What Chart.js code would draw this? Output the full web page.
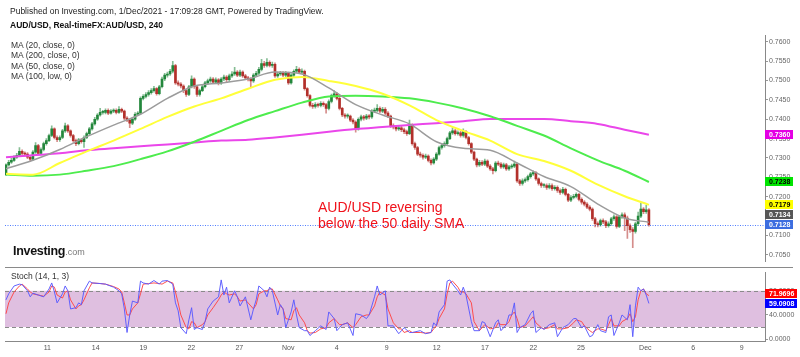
<!DOCTYPE html>
<html>
<head>
<meta charset="utf-8">
<title>AUD/USD 240</title>
<script src="https://cdn.jsdelivr.net/npm/chart.js@4.4.1/dist/chart.umd.min.js"></script>
<style>
html,body{margin:0;padding:0;background:#fff}
body{width:800px;height:357px;overflow:hidden;position:relative;font-family:"Liberation Sans",Arial,Helvetica,sans-serif}
canvas{position:absolute;left:0}
#main{top:0}
#stoch{top:267px}
.txt{position:absolute;white-space:nowrap;color:#222}
</style>
</head>
<body>
<canvas id="main" width="800" height="267" style="width:800px;height:267px"></canvas>
<canvas id="stoch" width="800" height="90" style="width:800px;height:90px"></canvas>
<div class="txt" style="left:10px;top:6px;font-size:8.5px;line-height:10px">Published on Investing.com, 1/Dec/2021 - 17:09:28 GMT, Powered by TradingView.</div>
<div class="txt" style="left:10px;top:20px;font-size:8.5px;line-height:10px;font-weight:bold;color:#111">AUD/USD, Real-timeFX:AUD/USD, 240</div>
<div class="txt" style="left:11px;top:40px;font-size:8.5px;line-height:10.4px;color:#333">MA (20, close, 0)<br>MA (200, close, 0)<br>MA (50, close, 0)<br>MA (100, low, 0)</div>
<div class="txt" style="left:318px;top:199px;font-size:14px;line-height:16px;color:#f0121b">AUD/USD reversing<br>below the 50 daily SMA</div>
<div class="txt" style="left:13px;top:244px;font-size:12.5px;line-height:15px;font-weight:bold;color:#111;letter-spacing:-0.3px">Investing<span style="font-size:9px;font-weight:normal;color:#777;letter-spacing:0">.com</span></div>
<div class="txt" style="left:11px;top:271px;font-size:8.5px;line-height:10px;color:#333">Stoch (14, 1, 3)</div>
<script>
// ---------- DATA (4h candles, AUD/USD) ----------
const open = [
0.7257,0.7282,0.7289,0.7294,0.7302,0.7307,0.7317,0.7312,0.7310,0.7302,
0.7297,0.7315,0.7332,0.7312,0.7322,0.7337,0.7345,0.7358,0.7375,0.7353,
0.7347,0.7353,0.7370,0.7383,0.7370,0.7358,0.7345,0.7337,0.7347,0.7342,
0.7353,0.7363,0.7375,0.7388,0.7400,0.7411,0.7418,0.7418,0.7423,0.7416,
0.7421,0.7423,0.7418,0.7426,0.7421,0.7403,0.7398,0.7390,0.7400,0.7413,
0.7416,0.7454,0.7459,0.7464,0.7469,0.7474,0.7479,0.7466,0.7484,0.7504,
0.7514,0.7517,0.7524,0.7539,0.7494,0.7491,0.7486,0.7474,0.7464,0.7484,
0.7504,0.7484,0.7464,0.7474,0.7484,0.7494,0.7499,0.7504,0.7496,0.7502,
0.7494,0.7504,0.7509,0.7502,0.7512,0.7517,0.7522,0.7514,0.7522,0.7512,
0.7507,0.7504,0.7499,0.7514,0.7519,0.7529,0.7544,0.7539,0.7547,0.7539,
0.7542,0.7512,0.7517,0.7519,0.7514,0.7519,0.7494,0.7514,0.7524,0.7529,
0.7522,0.7524,0.7479,0.7461,0.7436,0.7433,0.7438,0.7436,0.7441,0.7438,
0.7428,0.7446,0.7461,0.7466,0.7454,0.7428,0.7411,0.7408,0.7408,0.7398,
0.7393,0.7375,0.7400,0.7406,0.7403,0.7408,0.7406,0.7421,0.7423,0.7428,
0.7421,0.7426,0.7416,0.7408,0.7383,0.7380,0.7375,0.7378,0.7373,0.7368,
0.7363,0.7385,0.7337,0.7327,0.7310,0.7307,0.7302,0.7305,0.7294,0.7287,
0.7297,0.7310,0.7327,0.7332,0.7337,0.7350,0.7365,0.7370,0.7363,0.7365,
0.7358,0.7368,0.7353,0.7337,0.7315,0.7297,0.7282,0.7289,0.7284,0.7292,
0.7279,0.7272,0.7267,0.7287,0.7284,0.7277,0.7282,0.7272,0.7277,0.7279,
0.7284,0.7241,0.7234,0.7241,0.7244,0.7252,0.7259,0.7262,0.7246,0.7234,
0.7229,0.7229,0.7224,0.7229,0.7221,0.7224,0.7216,0.7211,0.7219,0.7206,
0.7191,0.7198,0.7201,0.7206,0.7193,0.7186,0.7181,0.7173,0.7168,0.7143,
0.7130,0.7128,0.7138,0.7135,0.7125,0.7130,0.7143,0.7148,0.7123,0.7148,
0.7153,0.7145,0.7125,0.7115,0.7110,0.7130,0.7150,0.7168,0.7161,0.7166];
const high = [
0.7285,0.7294,0.7299,0.7306,0.7312,0.7327,0.7321,0.7316,0.7314,0.7306,
0.7319,0.7340,0.7335,0.7326,0.7341,0.7350,0.7362,0.7383,0.7378,0.7357,
0.7357,0.7374,0.7390,0.7386,0.7373,0.7361,0.7349,0.7351,0.7350,0.7357,
0.7367,0.7379,0.7392,0.7405,0.7415,0.7428,0.7423,0.7427,0.7427,0.7425,
0.7427,0.7427,0.7433,0.7429,0.7424,0.7407,0.7401,0.7404,0.7417,0.7420,
0.7458,0.7464,0.7469,0.7474,0.7479,0.7485,0.7482,0.7488,0.7509,0.7519,
0.7522,0.7529,0.7550,0.7542,0.7499,0.7495,0.7489,0.7477,0.7488,0.7512,
0.7507,0.7487,0.7478,0.7488,0.7498,0.7504,0.7509,0.7508,0.7507,0.7505,
0.7508,0.7514,0.7513,0.7517,0.7523,0.7534,0.7526,0.7527,0.7525,0.7516,
0.7511,0.7508,0.7518,0.7524,0.7534,0.7555,0.7550,0.7557,0.7551,0.7548,
0.7546,0.7522,0.7524,0.7523,0.7524,0.7522,0.7518,0.7528,0.7537,0.7533,
0.7530,0.7527,0.7482,0.7464,0.7441,0.7443,0.7442,0.7446,0.7445,0.7441,
0.7450,0.7465,0.7474,0.7469,0.7457,0.7431,0.7415,0.7414,0.7411,0.7402,
0.7396,0.7404,0.7411,0.7410,0.7413,0.7412,0.7425,0.7429,0.7438,0.7432,
0.7431,0.7430,0.7420,0.7411,0.7388,0.7384,0.7383,0.7382,0.7377,0.7372,
0.7398,0.7388,0.7341,0.7330,0.7315,0.7311,0.7310,0.7308,0.7298,0.7301,
0.7314,0.7331,0.7337,0.7342,0.7354,0.7369,0.7378,0.7374,0.7370,0.7369,
0.7375,0.7371,0.7356,0.7340,0.7318,0.7300,0.7294,0.7293,0.7297,0.7295,
0.7283,0.7276,0.7291,0.7292,0.7288,0.7287,0.7286,0.7281,0.7284,0.7292,
0.7287,0.7245,0.7246,0.7249,0.7256,0.7263,0.7267,0.7265,0.7249,0.7238,
0.7234,0.7233,0.7234,0.7233,0.7229,0.7228,0.7220,0.7224,0.7222,0.7209,
0.7203,0.7206,0.7210,0.7209,0.7197,0.7190,0.7185,0.7177,0.7171,0.7147,
0.7135,0.7142,0.7143,0.7139,0.7135,0.7147,0.7153,0.7151,0.7152,0.7158,
0.7158,0.7150,0.7130,0.7120,0.7134,0.7160,0.7183,0.7172,0.7178,0.7169];
const low = [
0.7254,0.7279,0.7286,0.7291,0.7299,0.7304,0.7308,0.7305,0.7298,0.7292,
0.7294,0.7312,0.7308,0.7309,0.7318,0.7333,0.7342,0.7355,0.7349,0.7342,
0.7343,0.7350,0.7366,0.7366,0.7354,0.7341,0.7332,0.7334,0.7338,0.7327,
0.7350,0.7360,0.7372,0.7385,0.7397,0.7408,0.7413,0.7414,0.7412,0.7413,
0.7417,0.7414,0.7415,0.7417,0.7399,0.7394,0.7378,0.7386,0.7397,0.7410,
0.7413,0.7450,0.7455,0.7460,0.7465,0.7470,0.7462,0.7463,0.7481,0.7500,
0.7509,0.7513,0.7520,0.7490,0.7486,0.7481,0.7469,0.7459,0.7461,0.7481,
0.7480,0.7459,0.7460,0.7471,0.7481,0.7490,0.7495,0.7492,0.7492,0.7489,
0.7490,0.7500,0.7497,0.7498,0.7508,0.7513,0.7510,0.7510,0.7508,0.7502,
0.7499,0.7484,0.7495,0.7510,0.7515,0.7525,0.7534,0.7535,0.7535,0.7534,
0.7508,0.7508,0.7513,0.7510,0.7510,0.7490,0.7491,0.7510,0.7520,0.7518,
0.7518,0.7475,0.7457,0.7432,0.7428,0.7429,0.7431,0.7432,0.7433,0.7416,
0.7424,0.7442,0.7457,0.7450,0.7424,0.7407,0.7403,0.7403,0.7394,0.7388,
0.7367,0.7372,0.7396,0.7398,0.7399,0.7401,0.7402,0.7417,0.7419,0.7417,
0.7417,0.7412,0.7404,0.7379,0.7375,0.7370,0.7371,0.7368,0.7363,0.7358,
0.7360,0.7333,0.7322,0.7306,0.7302,0.7297,0.7298,0.7290,0.7282,0.7284,
0.7293,0.7307,0.7323,0.7328,0.7334,0.7347,0.7361,0.7359,0.7359,0.7354,
0.7354,0.7349,0.7333,0.7311,0.7293,0.7277,0.7278,0.7280,0.7280,0.7275,
0.7268,0.7259,0.7264,0.7280,0.7273,0.7273,0.7268,0.7268,0.7273,0.7275,
0.7237,0.7229,0.7230,0.7237,0.7240,0.7248,0.7255,0.7242,0.7230,0.7224,
0.7224,0.7219,0.7220,0.7216,0.7217,0.7211,0.7206,0.7207,0.7202,0.7187,
0.7187,0.7194,0.7197,0.7189,0.7181,0.7176,0.7169,0.7163,0.7139,0.7122,
0.7122,0.7124,0.7130,0.7120,0.7121,0.7126,0.7139,0.7119,0.7120,0.7144,
0.7112,0.7092,0.7108,0.7068,0.7106,0.7126,0.7146,0.7156,0.7157,0.7124];
const close = [
0.7282,0.7289,0.7294,0.7302,0.7307,0.7317,0.7312,0.7310,0.7302,0.7297,
0.7315,0.7332,0.7312,0.7322,0.7337,0.7345,0.7358,0.7375,0.7353,0.7347,
0.7353,0.7370,0.7383,0.7370,0.7358,0.7345,0.7337,0.7347,0.7342,0.7353,
0.7363,0.7375,0.7388,0.7400,0.7411,0.7418,0.7418,0.7423,0.7416,0.7421,
0.7423,0.7418,0.7426,0.7421,0.7403,0.7398,0.7390,0.7400,0.7413,0.7416,
0.7454,0.7459,0.7464,0.7469,0.7474,0.7479,0.7466,0.7484,0.7504,0.7514,
0.7517,0.7524,0.7539,0.7494,0.7491,0.7486,0.7474,0.7464,0.7484,0.7504,
0.7484,0.7464,0.7474,0.7484,0.7494,0.7499,0.7504,0.7496,0.7502,0.7494,
0.7504,0.7509,0.7502,0.7512,0.7517,0.7522,0.7514,0.7522,0.7512,0.7507,
0.7504,0.7499,0.7514,0.7519,0.7529,0.7544,0.7539,0.7547,0.7539,0.7542,
0.7512,0.7517,0.7519,0.7514,0.7519,0.7494,0.7514,0.7524,0.7529,0.7522,
0.7524,0.7479,0.7461,0.7436,0.7433,0.7438,0.7436,0.7441,0.7438,0.7428,
0.7446,0.7461,0.7466,0.7454,0.7428,0.7411,0.7408,0.7408,0.7398,0.7393,
0.7375,0.7400,0.7406,0.7403,0.7408,0.7406,0.7421,0.7423,0.7428,0.7421,
0.7426,0.7416,0.7408,0.7383,0.7380,0.7375,0.7378,0.7373,0.7368,0.7363,
0.7385,0.7337,0.7327,0.7310,0.7307,0.7302,0.7305,0.7294,0.7287,0.7297,
0.7310,0.7327,0.7332,0.7337,0.7350,0.7365,0.7370,0.7363,0.7365,0.7358,
0.7368,0.7353,0.7337,0.7315,0.7297,0.7282,0.7289,0.7284,0.7292,0.7279,
0.7272,0.7267,0.7287,0.7284,0.7277,0.7282,0.7272,0.7277,0.7279,0.7284,
0.7241,0.7234,0.7241,0.7244,0.7252,0.7259,0.7262,0.7246,0.7234,0.7229,
0.7229,0.7224,0.7229,0.7221,0.7224,0.7216,0.7211,0.7219,0.7206,0.7191,
0.7198,0.7201,0.7206,0.7193,0.7186,0.7181,0.7173,0.7168,0.7143,0.7130,
0.7128,0.7138,0.7135,0.7125,0.7130,0.7143,0.7148,0.7123,0.7148,0.7153,
0.7145,0.7125,0.7115,0.7110,0.7130,0.7150,0.7168,0.7161,0.7166,0.7128];

// moving averages, read at every 10th candle
const maIdx = [0,10,20,30,40,50,60,70,80,90,100,110,120,130,140,150,160,170,180,190,200,210,220,230,239];
const ma20  = [0.7272,0.7294,0.7322,0.7355,0.7385,0.7413,0.7454,0.7486,0.7494,0.7504,0.7522,0.7517,0.7481,0.7438,0.7411,0.7388,0.7342,0.7325,0.7320,0.7287,0.7252,0.7226,0.7181,0.7145,0.7134];
const ma50  = [0.7259,0.7257,0.7287,0.7317,0.7345,0.7375,0.7406,0.7433,0.7454,0.7479,0.7502,0.7509,0.7499,0.7486,0.7466,0.7436,0.7398,0.7370,0.7345,0.7310,0.7292,0.7267,0.7231,0.7201,0.7179];
const ma100 = [0.7257,0.7254,0.7257,0.7267,0.7279,0.7297,0.7317,0.7342,0.7370,0.7398,0.7421,0.7443,0.7459,0.7461,0.7459,0.7454,0.7443,0.7428,0.7408,0.7383,0.7358,0.7325,0.7294,0.7267,0.7238];
const ma200 = [0.7302,0.7307,0.7312,0.7320,0.7325,0.7330,0.7335,0.7340,0.7345,0.7347,0.7353,0.7360,0.7368,0.7375,0.7380,0.7385,0.7390,0.7395,0.7401,0.7401,0.7401,0.7395,0.7388,0.7373,0.7360];

// stochastic (14,1,3): candle index, %K, %D
const stochIdx = [
0,1,3,5,6,8,9,10,12,14, 16,17,18,19,21,22,23,24,26,27, 28,29,31,32,35,37,40,42,43,44,
45,46,47,49,50,51,53,55,57,58, 60,62,63,64,65,67,68,69,70,71, 73,74,75,77,79,80,81,82,83,85,
86,87,89,91,92,93,94,96,97,98, 99,101,102,103,104,106,107,108,109,111, 112,113,115,117,119,120,122,123,124,125,
127,129,130,132,134,135,137,138,139,141, 142,144,146,147,148,150,151,154,156,158, 159,160,161,163,164,165,166,168,169,170,
171,173,174,176,177,178,180,182,183,184, 186,187,188,189,190,191,193,195,196,197, 199,200,202,204,205,207,209,211,212,214,
215,217,218,220,221,223,224,225,226,228, 229,231,232,233,234,235,236,237,238,239];
const stochK = [
65,75,88,91,90,80,70,76,73,70, 83,93,78,60,75,88,80,50,52,60, 57,80,96,93,92,91,86,80,75,50,
11,40,63,60,96,93,91,97,91,96, 97,91,60,47,19,9,32,52,16,19, 16,29,50,63,70,98,73,86,60,80,
70,55,70,32,50,65,88,80,70,86, 80,40,57,50,19,45,65,40,19,14, 14,6,14,22,16,45,34,14,19,24,
27,6,42,40,34,40,70,88,73,80, 22,22,9,14,19,11,11,14,9,11, 27,22,45,57,96,98,91,80,73,86,
73,29,14,14,29,27,4,27,32,14, 24,40,40,60,11,19,24,42,47,11, 19,16,24,27,4,19,24,34,34,19,
22,4,6,24,14,11,37,40,6,27, 40,32,57,4,55,86,80,83,73,59.0908];
const stochD = [
42,60,78,88,91,83,78,75,73,71, 78,88,86,73,68,78,80,65,50,55, 57,65,85,93,92,91,87,83,78,60,
40,40,50,60,75,91,92,93,92,91, 96,93,78,60,40,19,17,29,27,19, 24,29,40,52,65,73,78,75,73,75,
70,63,65,55,50,57,75,80,80,83, 83,65,55,50,34,32,47,52,40,27, 14,10,11,17,19,27,34,29,24,24,
27,19,24,37,40,40,55,70,78,73, 50,27,17,17,11,14,11,11,10,11, 17,22,34,50,75,93,96,86,78,78,
75,60,29,14,19,24,17,19,27,24, 24,29,40,45,34,19,22,32,37,27, 19,17,19,24,17,17,19,27,32,29,
22,14,11,17,17,14,24,34,22,22, 29,34,42,29,37,65,80,83,75,71.9696];
const stochBands = [20, 80];

// axes
const tickPos    = [15.35,33.35,51.04,68.88,86.73,104.94,122.94,141.52,160.11,178.07,196.02,213.75,237.66,255.50,273.49];
const tickLabels = ['11','14','19','22','27','Nov','4','9','12','17','22','25','Dec','6','9'];
const priceTicks = [0.7050,0.7100,0.7150,0.7200,0.7250,0.7300,0.7350,0.7400,0.7450,0.7500,0.7550,0.7600];
const stochTicks = [0, 40, 80];
const xRange = [-0.37, 282.16];
const priceRange = [0.70318, 0.76177];
const stochRange = [-3.08, 110.77];

// ---------- CHARTS ----------
const FONT = '"Liberation Sans", Arial, Helvetica, sans-serif';
Chart.defaults.font.family = FONT;
const UP = '#23873c', DOWN = '#b3302b';
const UPW = 'rgba(35,135,60,0.55)', DOWNW = 'rgba(179,48,43,0.55)';
const idx = close.map((_, i) => i);
const isUp = i => close[i] >= open[i];
const last = a => a[a.length - 1];

function drawTags(chart, tags, w) {
  const {ctx, chartArea: a, scales: {y}} = chart;
  const list = tags.map(t => Object.assign({}, t, {p: y.getPixelForValue(t.v)})).sort((m, n) => n.p - m.p);
  for (let k = 1; k < list.length; k++) if (list[k].p > list[k - 1].p - 10) list[k].p = list[k - 1].p - 10;
  ctx.save();
  ctx.font = 'bold 7px ' + FONT;
  ctx.textBaseline = 'middle';
  ctx.textAlign = 'left';
  list.forEach(t => {
    const top = Math.round(t.p - 4.5);
    ctx.fillStyle = t.bg;
    ctx.fillRect(a.right, top, w, 9);
    ctx.fillStyle = t.fg;
    ctx.fillText(t.label, a.right + 4, top + 5);
  });
  ctx.restore();
}

const mainDeco = {
  id: 'mainDeco',
  beforeDatasetsDraw(chart) {
    const {ctx, chartArea: a, scales: {y}} = chart;
    const yy = Math.round(y.getPixelForValue(last(close))) + 0.5;
    ctx.save();
    ctx.strokeStyle = '#4f7dff';
    ctx.lineWidth = 1;
    ctx.setLineDash([1, 1.5]);
    ctx.beginPath(); ctx.moveTo(a.left, yy); ctx.lineTo(a.right, yy); ctx.stroke();
    ctx.restore();
  },
  afterDraw(chart) {
    drawTags(chart, [
      {v: last(ma200), label: last(ma200).toFixed(4), bg: '#e400e4', fg: '#fff'},
      {v: last(ma100), label: last(ma100).toFixed(4), bg: '#00e400', fg: '#000'},
      {v: last(ma50),  label: last(ma50).toFixed(4),  bg: '#ffff00', fg: '#000'},
      {v: last(ma20),  label: last(ma20).toFixed(4),  bg: '#575757', fg: '#fff'},
      {v: last(close), label: last(close).toFixed(4), bg: '#3d6ee0', fg: '#fff'}
    ], 28);
  }
};

const maSet = (label, arr, color, width, order) => ({
  type: 'line', label, data: maIdx.map((x, k) => ({x, y: arr[k]})),
  borderColor: color, borderWidth: width, pointRadius: 0,
  cubicInterpolationMode: 'monotone', order
});

new Chart(document.getElementById('main'), {
  type: 'bar',
  data: {datasets: [
    maSet('MA 20', ma20, '#9c9c9c', 1.5, 0),
    maSet('MA 50', ma50, '#ffff3a', 2, 1),
    maSet('MA 100', ma100, '#4dec4d', 2, 1),
    maSet('MA 200', ma200, '#ea46ea', 2, 1),
    {label: 'body', data: idx.map(i => ({x: i, y: [open[i], close[i]]})),
     backgroundColor: c => isUp(c.dataIndex) ? UP : DOWN, borderWidth: 0,
     barThickness: 2, minBarLength: 1, grouped: false, order: 3},
    {label: 'wick', data: idx.map(i => ({x: i, y: [low[i], high[i]]})),
     backgroundColor: c => isUp(c.dataIndex) ? UPW : DOWNW, borderWidth: 0,
     barThickness: 1, grouped: false, order: 4}
  ]},
  options: {
    responsive: false, animation: false, events: [],
    layout: {padding: {left: 5, top: 35, right: 0, bottom: 0}},
    plugins: {legend: {display: false}, tooltip: {enabled: false}},
    scales: {
      x: {type: 'linear', display: false, min: xRange[0], max: xRange[1], offset: false},
      y: {position: 'right', min: priceRange[0], max: priceRange[1],
          afterBuildTicks: s => { s.ticks = priceTicks.map(v => ({value: v})); },
          afterFit: s => { s.width = 35; },
          ticks: {callback: v => Number(v).toFixed(4), font: {size: 7}, color: '#666', padding: 1},
          grid: {drawOnChartArea: false, tickLength: 3, color: '#999'},
          border: {display: true, color: '#888'}}
    }
  },
  plugins: [mainDeco]
});

const stochDeco = {
  id: 'stochDeco',
  beforeDatasetsDraw(chart) {
    const {ctx, chartArea: a, scales: {y}} = chart;
    const yHi = y.getPixelForValue(stochBands[1]), yLo = y.getPixelForValue(stochBands[0]);
    ctx.save();
    ctx.fillStyle = '#dfbfe0';
    ctx.fillRect(a.left, yHi, a.right - a.left, yLo - yHi);
    ctx.strokeStyle = '#8a8a8a';
    ctx.lineWidth = 1;
    ctx.setLineDash([4, 3]);
    [yHi, yLo].forEach(p => {
      const q = Math.round(p) + 0.5;
      ctx.beginPath(); ctx.moveTo(a.left, q); ctx.lineTo(a.right, q); ctx.stroke();
    });
    ctx.restore();
  },
  afterDraw(chart) {
    const {ctx, chartArea: a} = chart;
    ctx.save();
    ctx.strokeStyle = '#8a8a8a';
    ctx.lineWidth = 1;
    ctx.beginPath(); ctx.moveTo(a.left, 0.5); ctx.lineTo(793, 0.5); ctx.stroke();
    ctx.restore();
    drawTags(chart, [
      {v: last(stochD), label: last(stochD).toFixed(4), bg: '#ff0000', fg: '#fff'},
      {v: last(stochK), label: last(stochK).toFixed(4), bg: '#0000ff', fg: '#fff'}
    ], 32);
  }
};

new Chart(document.getElementById('stoch'), {
  type: 'line',
  data: {datasets: [
    {label: '%K', data: stochIdx.map((x, k) => ({x, y: stochK[k]})),
     borderColor: 'rgba(90,90,255,0.95)', borderWidth: 1, pointRadius: 0, tension: 0},
    {label: '%D', data: stochIdx.map((x, k) => ({x, y: stochD[k]})),
     borderColor: 'rgba(255,70,70,0.95)', borderWidth: 1, pointRadius: 0, tension: 0}
  ]},
  options: {
    responsive: false, animation: false, events: [],
    layout: {padding: {left: 5, top: 0, right: 0, bottom: 0}},
    plugins: {legend: {display: false}, tooltip: {enabled: false}},
    scales: {
      x: {type: 'linear', min: xRange[0], max: xRange[1], offset: false,
          afterBuildTicks: s => { s.ticks = tickPos.map(v => ({value: v})); },
          afterFit: s => { s.height = 16; },
          ticks: {callback: (v, i) => tickLabels[i], autoSkip: false, maxRotation: 0, font: {size: 7}, color: '#555', padding: 3},
          grid: {display: false, drawTicks: false},
          border: {display: true, color: '#888'}},
      y: {position: 'right', min: stochRange[0], max: stochRange[1],
          afterBuildTicks: s => { s.ticks = stochTicks.map(v => ({value: v})); },
          afterFit: s => { s.width = 35; },
          ticks: {callback: v => Number(v).toFixed(4), font: {size: 7}, color: '#666', padding: 1},
          grid: {drawOnChartArea: false, tickLength: 3, color: '#999'},
          border: {display: true, color: '#888'}}
    }
  },
  plugins: [stochDeco]
});
</script>
</body>
</html>
